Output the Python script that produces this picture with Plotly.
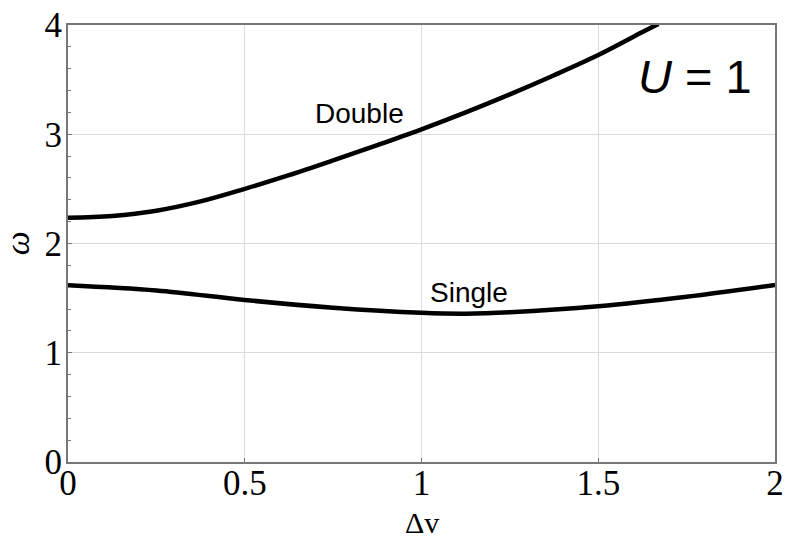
import plotly.graph_objects as go

dv_double = [0.0, 0.125, 0.25, 0.375, 0.5, 0.625, 0.75, 0.875, 1.0, 1.125, 1.25, 1.375, 1.5, 1.625, 1.67]
w_double = [2.236, 2.252, 2.30, 2.385, 2.50, 2.625, 2.76, 2.90, 3.045, 3.20, 3.365, 3.54, 3.725, 3.935, 4.01]

dv_single = [0.0, 0.25, 0.5, 0.75, 1.0, 1.125, 1.25, 1.5, 1.75, 2.0]
w_single = [1.618, 1.57, 1.483, 1.412, 1.365, 1.357, 1.37, 1.425, 1.512, 1.62]

x_ticks = [0, 0.5, 1, 1.5, 2]
x_ticklabels = ["0", "0.5", "1", "1.5", "2"]
y_ticks = [0, 1, 2, 3, 4]

fig = go.Figure()
fig.add_trace(go.Scatter(x=dv_double, y=w_double, mode="lines",
                         line=dict(color="black", width=4.5, shape="spline", smoothing=1),
                         showlegend=False))
fig.add_trace(go.Scatter(x=dv_single, y=w_single, mode="lines",
                         line=dict(color="black", width=4.5, shape="spline", smoothing=1),
                         showlegend=False))

fig.add_annotation(x=0.826, y=3.19, text="Double", showarrow=False,
                   font=dict(family="Liberation Sans", size=28, color="black"))
fig.add_annotation(x=1.134, y=1.55, text="Single", showarrow=False,
                   font=dict(family="Liberation Sans", size=28, color="black"))
fig.add_annotation(x=1.774, y=3.53, text="<i>U</i> = 1", showarrow=False,
                   font=dict(family="Liberation Sans", size=47, color="black"))

# axis titles
fig.add_annotation(xref="paper", yref="paper", x=0.5, y=-0.138, xanchor="center", yanchor="middle",
                   text="Δv", showarrow=False, borderpad=0,
                   font=dict(family="Liberation Serif", size=30, color="black"))
fig.add_annotation(xref="paper", yref="paper", x=-0.072, y=0.501, xanchor="center", yanchor="middle",
                   text="<i>ω</i>", showarrow=False, textangle=-90,
                   font=dict(family="Liberation Serif", size=34, color="black"))

axis_common = dict(showline=True, linecolor="#777", linewidth=2, mirror=True,
                   showgrid=True, gridcolor="#dcdcdc", gridwidth=1, zeroline=False,
                   ticks="inside", ticklen=4, tickcolor="#777", automargin=False,
                   tickfont=dict(family="Liberation Serif", size=35, color="black"))

fig.update_xaxes(range=[0, 2], tickvals=x_ticks, ticktext=x_ticklabels,
                 ticklabelstandoff=-11, **axis_common)
fig.update_yaxes(range=[0, 4], tickvals=y_ticks, ticklabelstandoff=-3,
                 minor=dict(dtick=0.2, ticks="inside", ticklen=3, tickcolor="#777", showgrid=False),
                 **axis_common)

fig.update_layout(width=785, height=541, margin=dict(l=68, r=10, t=25, b=79),
                  plot_bgcolor="white", paper_bgcolor="white")

fig.write_html("out.html")
